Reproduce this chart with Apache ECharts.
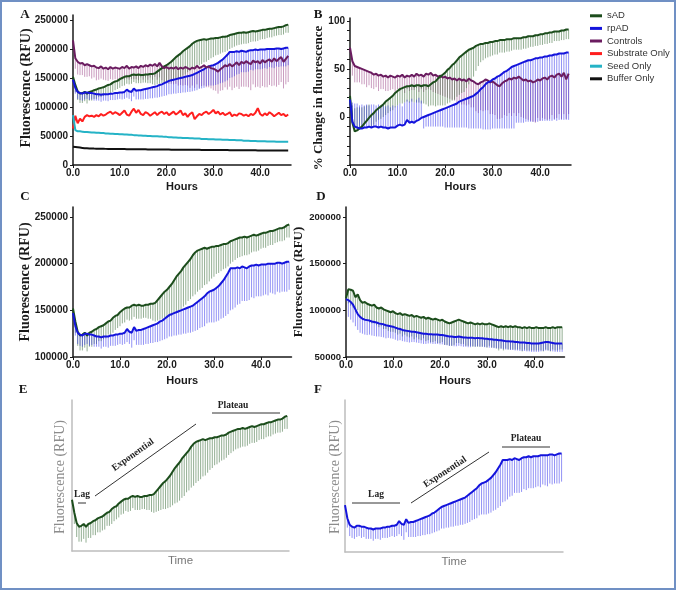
<!DOCTYPE html>
<html><head><meta charset="utf-8">
<script src="https://cdn.jsdelivr.net/npm/echarts@6/dist/echarts.min.js"></script>
<style>html,body{margin:0;padding:0;background:#fff}#c{width:676px;height:590px}</style>
</head><body><div id="c"></div>
<script>
// ---------- time points (hours) ----------
const hours = [
 0,0.5,1,1.5,2,2.5,3,3.5,4,4.5,
 5,5.5,6,6.5,7,7.5,8,8.5,9,9.5,
 10,10.5,11,11.5,12,12.5,13,13.5,14,14.5,
 15,15.5,16,16.5,17,17.5,18,18.5,19,19.5,
 20,20.5,21,21.5,22,22.5,23,23.5,24,24.5,
 25,25.5,26,26.5,27,27.5,28,28.5,29,29.5,
 30,30.5,31,31.5,32,32.5,33,33.5,34,34.5,
 35,35.5,36,36.5,37,37.5,38,38.5,39,39.5,
 40,40.5,41,41.5,42,42.5,43,43.5,44,44.5,
 45,45.5,46];
const xTickLabels = [0,10,20,30,40];
const yTicksA = [0,50000,100000,150000,200000,250000];
const yTicksB = [0,50,100];
const yMinorB = [-50,-40,-30,-20,-10,0,10,20,30,40,50,60,70,80,90,100];
const yTicksC = [100000,150000,200000,250000];
const yTicksD = [50000,100000,150000,200000];

// ---------- fluorescence, thousands of RFU (panels A, C, E, F) ----------
const sAD_k = [
 152,138,127,123,124,126,123,126,127,129,
 130,132,133,134,136,138,139,142,144,145,
 148,150,152,153,153,155,156,155,156,155,
 155,156,156,157,157,158,161,164,167,170,
 172,175,178,182,186,189,192,196,199,202,
 205,209,212,214,215,216,217,216,217,218,
 218,219,219,220,221,221,222,224,225,226,
 227,228,228,229,228,229,230,231,230,231,
 232,233,233,234,235,235,236,237,238,238,
 239,241,242];
const sAD_err_k = [
 5,12,15,16,17,16,17,15,16,15,
 16,15,16,15,16,14,15,16,15,14,
 15,14,15,13,14,15,13,14,15,14,
 13,14,15,16,18,20,22,24,26,28,
 30,32,34,36,38,40,41,42,43,42,
 43,44,45,44,43,42,40,38,36,34,
 32,30,29,28,27,26,25,24,23,22,
 21,21,20,20,19,19,18,18,17,17,
 16,16,16,15,15,15,14,14,14,14,
 14,13,14];
const rpAD_k = [
 147,133,126,124,123,125,125,124,124,123,
 122,122,121,122,122,122,123,123,124,124,
 125,125,126,130,127,126,132,128,129,129,
 130,131,132,133,134,135,136,138,139,141,
 143,145,146,147,148,149,150,151,152,153,
 154,155,157,159,161,163,165,168,170,171,
 172,174,176,179,182,186,190,195,195,195,
 196,195,197,196,195,197,198,198,199,198,
 199,199,199,200,200,200,200,201,201,200,
 201,202,202];
const rpAD_err_k = [
 5,10,12,12,12,12,11,12,11,12,
 11,11,12,11,11,12,11,11,12,11,
 11,12,12,14,13,16,14,15,16,16,
 17,17,18,18,19,19,20,21,21,22,
 23,23,24,24,25,25,26,26,27,27,
 28,28,29,30,30,31,32,32,33,34,
 35,36,37,38,40,42,44,45,44,42,
 40,38,37,36,35,36,34,35,34,33,
 34,33,32,34,31,32,33,31,32,30,
 31,32,30];
const controls_k = [
 215,184,178,175,176,172,174,172,170,171,
 168,167,170,166,168,165,169,166,168,167,
 166,169,167,171,166,169,168,170,167,171,
 169,172,170,173,171,174,170,176,170,167,
 169,166,168,166,169,165,168,166,169,167,
 165,168,166,171,167,169,172,168,170,167,
 166,164,161,165,168,172,170,174,170,173,
 177,172,178,175,179,176,174,180,177,179,
 175,181,177,180,182,178,184,179,183,186,
 178,183,188];
const controls_err_k = [
 5,18,22,20,21,20,22,19,21,20,
 22,20,21,19,22,20,21,19,20,22,
 20,21,20,22,19,21,20,22,21,20,
 22,21,23,22,24,22,23,25,24,26,
 25,26,28,27,29,28,30,29,31,30,
 32,31,33,32,34,33,35,34,36,35,
 37,36,38,37,39,38,40,39,41,40,
 42,41,43,40,44,42,45,41,43,44,
 42,45,43,46,44,42,47,44,45,43,
 46,44,45];
const substrate_k = [
 63,85,72,80,75,83,86,84,85,83,
 86,84,88,85,87,90,92,88,91,89,
 86,90,94,87,85,92,97,90,95,88,
 86,91,89,85,88,91,86,90,92,88,
 91,86,89,92,87,90,94,86,89,83,
 88,91,79,84,88,86,90,92,88,91,
 95,89,92,87,90,86,88,91,84,87,
 85,89,88,85,87,84,88,86,90,98,
 88,85,89,86,91,88,84,87,90,86,
 88,84,87];
const seed_k = [
 86,60,58,58,57.5,57,57,56.5,56,56,
 55.5,55.5,55,55,54.5,54.5,54,54,53.5,53.5,
 53,53,52.5,52.5,52,52,51.5,51.5,51,51,
 50.5,50.5,50,50,49.5,49.5,49.5,49,49,48.5,
 48.5,48,48,47.5,47.5,47,47,46.5,46.5,46.5,
 46,46,45.5,45.5,45.5,45,45,45,44.5,44.5,
 44.5,44,44,44,43.5,43.5,43.5,43,43,43,
 42.5,42.5,42.5,42,42,42,41.5,41.5,41.5,41,
 41,41,41,40.5,40.5,40.5,40.5,40,40,40,
 40,40,40];
const buffer_k = [
 31.5,31,30.5,30,29.5,29,28.8,28.6,28.5,28.3,
 28.2,28,28,27.9,27.8,27.7,27.7,27.6,27.6,27.5,
 27.5,27.4,27.4,27.3,27.3,27.2,27.2,27.1,27.1,27,
 27,27,26.9,26.9,26.8,26.8,26.8,26.7,26.7,26.6,
 26.6,26.6,26.5,26.5,26.5,26.4,26.4,26.3,26.3,26.3,
 26.2,26.2,26.2,26.1,26.1,26,26,26,25.9,25.9,
 25.9,25.8,25.8,25.8,25.7,25.7,25.7,25.6,25.6,25.6,
 25.5,25.5,25.5,25.4,25.4,25.4,25.3,25.3,25.3,25.2,
 25.2,25.2,25.1,25.1,25.1,25,25,25,25,25,
 25,25,25];

// ---------- % change in fluorescence (panel B) ----------
const sAD_pct = [
 22,-6,-15,-14,-12,-10,-7,-4,-1,2,
 4,7,9,11,13,16,18,20,22,25,
 27,29,30,31,32,32,33,32,33,33,
 32,33,33,32,34,36,37,40,42,44,
 46,49,51,54,56,59,62,64,66,68,
 70,71,72,74,75,76,76,77,77,78,
 78,79,79,80,80,80,81,81,81,82,
 82,82,82,83,83,84,84,84,85,85,
 86,86,87,87,88,88,89,89,89,90,
 90,91,91];
const sAD_pct_err = [
 5,18,24,24,22,20,18,16,14,12,
 12,12,12,13,13,14,14,14,15,15,
 15,15,16,16,16,17,17,17,18,18,
 18,19,20,21,22,24,26,28,30,32,
 34,35,36,37,38,38,39,39,40,38,
 36,33,30,26,22,19,17,16,15,15,
 14,14,14,13,13,13,13,13,12,12,
 12,12,12,12,12,12,11,11,11,11,
 11,11,11,11,11,11,10,10,10,10,
 10,10,10];
const rpAD_pct = [
 18,-5,-10,-11,-12,-12,-11,-11,-10,-11,
 -10,-10,-11,-10,-11,-11,-12,-11,-11,-11,
 -9,-8,-9,-8,-3,-6,-5,-6,-4,-3,
 -1,0,1,2,3,4,5,6,7,8,
 9,10,11,12,13,14,16,17,18,19,
 20,21,22,24,26,29,31,34,36,37,
 39,40,42,43,45,47,48,50,52,53,
 54,55,56,57,58,59,59,60,61,61,
 62,62,63,63,64,64,65,65,66,66,
 66,67,67];
const rpAD_pct_err = [
 5,20,24,25,24,25,23,24,22,24,
 23,22,24,21,23,22,24,21,23,22,
 21,22,20,23,21,22,24,21,22,23,
 18,12,11,12,13,14,15,16,17,18,
 20,21,22,23,24,25,27,28,29,30,
 32,33,34,36,38,41,44,47,49,50,
 51,52,54,55,57,59,60,62,64,65,
 60,61,62,63,63,64,64,65,66,66,
 66,66,67,67,68,68,68,69,69,69,
 69,70,70];
const controls_pct = [
 72,58,53,52,51,50,49,48,47,46,
 44,45,43,44,42,43,41,43,42,41,
 43,42,44,41,43,42,44,42,45,43,
 44,42,45,44,46,43,44,42,43,41,
 42,40,41,39,40,38,40,38,39,37,
 40,38,37,35,34,36,37,39,38,36,
 37,35,33,32,35,37,38,40,39,41,
 40,42,40,38,39,37,38,36,37,39,
 38,40,41,39,42,43,41,44,45,42,
 46,39,45];
const controls_pct_err = [
 5,15,17,16,15,16,15,17,14,16,
 15,14,16,15,13,16,14,15,13,16,
 14,15,13,16,14,15,16,14,15,17,
 15,16,17,15,18,17,19,18,20,19,
 21,20,22,21,23,24,23,25,26,25,
 27,28,27,29,30,29,31,32,31,33,
 34,33,35,34,36,35,37,36,38,37,
 39,38,40,39,41,40,42,41,43,40,
 42,41,43,42,44,41,43,45,42,44,
 43,41,42];

// ---------- panel D, thousands of RFU ----------
const D_sAD_k = [
 113,122.5,122,121,114,117,111,108,109,107,
 106,105,106,103,102,103,101,100,99,98,
 99,97,96,97,95,96,95,94,95,93,
 94,93,92,93,91,92,91,90,91,90,
 89,90,88,87,86,87,88,89,90,89,
 88,87,86,87,86,85,86,85,86,85,
 85,86,85,84,83,82,83,82,83,82,
 83,82,83,82,82,81,82,81,82,81,
 81,82,81,81,81,82,81,81,82,81,
 82,82,82];
const D_sAD_err_k = [
 3,15,17,18,16,17,18,18,19,18,
 19,19,20,19,20,20,21,20,21,21,
 22,21,22,22,23,22,23,23,23,24,
 23,24,24,23,24,24,25,24,24,25,
 24,24,25,24,24,25,25,24,25,25,
 24,25,24,25,25,24,25,24,25,24,
 25,24,25,24,24,25,24,25,24,24,
 25,24,25,24,24,25,24,24,25,24,
 24,25,24,24,25,24,24,25,24,24,
 25,24,24];
const D_rpAD_k = [
 112,111,109,106,101,96,93,91,90,89.5,
 89,88,87.5,87,86,85.5,85,84,83.5,83,
 82.5,81.5,80.5,80,79,78.5,78,77.5,77,77,
 76.5,76,75.5,75,75,74.5,74.5,74,74,74,
 73.5,73.5,73,72.5,72,72,71.5,71.5,72,71.5,
 71,71,70.5,70.5,70.5,70,70.5,70,70,69.5,
 69.5,69,69,68.5,68.5,68,68,67.5,67,67,
 66.5,66.5,66,66,65.5,65.5,65.5,65,65,64.5,
 64.5,64.5,64.5,65,65.5,66,66,65.5,65,64.5,
 64.5,64.5,64.5];
const D_rpAD_err_k = [
 3,18,19,19,18,17,17,16,16,16,
 15,15,15,15,14,14,14,14,13,13,
 13,13,13,12,12,12,12,12,11,11,
 11,11,11,11,11,10,10,10,10,10,
 10,10,10,10,10,10,10,10,10,10,
 10,10,10,10,9,9,9,9,9,9,
 9,9,9,9,9,9,9,9,9,9,
 9,9,9,9,9,9,9,9,9,9,
 9,9,9,9,9,9,9,9,9,9,
 9,9,9];

// ---------- styling ----------
const C_SAD = '#1c4d1c', C_RPAD = '#1414dc', C_CTRL = '#6b1c60',
      C_SUB = '#ff1e1e', C_SEED = '#25b3c6', C_BUF = '#111111';
const E_SAD = 'rgba(60,110,60,0.55)', E_RPAD = 'rgba(40,40,235,0.5)', E_CTRL = 'rgba(150,60,130,0.5)';
const SANS = '"Liberation Sans", Arial, Helvetica, sans-serif';
const SERIF = '"Liberation Serif", "Times New Roman", serif';
const INK = '#1a1a1a';
const K = 1000;

function pairs(vals, scale) { return hours.map((t, i) => [t, vals[i] * scale]); }
function triples(vals, errs, scale) { return hours.map((t, i) => [t, vals[i] * scale, errs[i] * scale]); }

function line(name, idx, vals, scale, color, width) {
  return { type: 'line', name: name, xAxisIndex: idx, yAxisIndex: idx, data: pairs(vals, scale),
    showSymbol: false, symbol: 'none', color: color, lineStyle: { color: color, width: width || 2 },
    itemStyle: { color: color }, z: 4, silent: true, animation: false, clip: true };
}
function errs(idx, vals, er, scale, color, towardZero) {
  return { type: 'custom', xAxisIndex: idx, yAxisIndex: idx, data: triples(vals, er, scale),
    encode: { x: 0, y: 1 }, clip: true, z: 2, silent: true, animation: false,
    renderItem: function (params, api) {
      const t = api.value(0), v = api.value(1), e = api.value(2);
      const end = (towardZero && v < 0) ? v + e : v - e;
      const p1 = api.coord([t, v]), p2 = api.coord([t, end]);
      return { type: 'line', shape: { x1: p1[0], y1: p1[1], x2: p2[0], y2: p2[1] },
        style: { stroke: color, lineWidth: 1 } };
    } };
}

function xAxisStd(idx, max, gap) {
  return { type: 'value', gridIndex: idx, min: 0, max: max, interval: 10,
    name: 'Hours', nameLocation: 'middle', nameGap: gap,
    nameTextStyle: { fontFamily: SANS, fontSize: 11, fontWeight: 'bold', color: INK },
    axisLine: { show: true, onZero: false, lineStyle: { color: INK, width: 1.5 } },
    axisTick: { show: true, length: 3, customValues: xTickLabels, lineStyle: { color: INK } },
    axisLabel: { show: true, margin: 3, customValues: xTickLabels, fontFamily: SANS, fontSize: 10,
      fontWeight: 'bold', color: INK,
      formatter: v => (Math.abs(v % 10) < 1e-6 ? v.toFixed(1) : '') },
    splitLine: { show: false } };
}
function yAxisStd(idx, min, max, ticks, minor, fs) {
  return { type: 'value', gridIndex: idx, min: min, max: max,
    axisLine: { show: true, onZero: false, lineStyle: { color: INK, width: 1.5 } },
    axisTick: { show: true, length: 3, customValues: minor || ticks, lineStyle: { color: INK } },
    axisLabel: { show: true, margin: 5, customValues: ticks, fontFamily: SANS, fontSize: fs || 10,
      fontWeight: 'bold', color: INK,
      formatter: v => (ticks.indexOf(v) >= 0 ? String(v) : '') },
    splitLine: { show: false } };
}
function xAxisPlain(idx, max) {
  return { type: 'value', gridIndex: idx, min: 0, max: max,
    name: 'Time', nameLocation: 'middle', nameGap: 4,
    nameTextStyle: { fontFamily: SANS, fontSize: 11.5, color: '#777' },
    axisLine: { show: true, onZero: false, lineStyle: { color: '#bdbdbd', width: 1.5 } },
    axisTick: { show: false }, axisLabel: { show: false }, splitLine: { show: false } };
}
function yAxisPlain(idx, min, max) {
  return { type: 'value', gridIndex: idx, min: min, max: max,
    axisLine: { show: true, onZero: false, lineStyle: { color: '#bdbdbd', width: 1.5 } },
    axisTick: { show: false }, axisLabel: { show: false }, splitLine: { show: false } };
}

function letter(t, x, y) {
  return { type: 'text', x: x, y: y, silent: true,
    style: { text: t, font: 'bold 13px ' + SERIF, fill: INK, align: 'center', verticalAlign: 'middle',
      textAlign: 'center', textVerticalAlign: 'middle' } };
}
function vtitle(t, x, y, font, color) {
  return { type: 'text', x: x, y: y, rotation: Math.PI / 2, silent: true,
    style: { text: t, font: font, fill: color, align: 'center', verticalAlign: 'middle',
      textAlign: 'center', textVerticalAlign: 'middle' } };
}
function note(t, x, y, rot) {
  return { type: 'text', x: x, y: y, rotation: rot || 0, silent: true,
    style: { text: t, font: 'bold 9.5px ' + SERIF, fill: '#222', align: 'center', verticalAlign: 'middle',
      textAlign: 'center', textVerticalAlign: 'middle' } };
}
function seg(x1, y1, x2, y2) {
  return { type: 'line', silent: true, shape: { x1: x1, y1: y1, x2: x2, y2: y2 },
    style: { stroke: '#333', lineWidth: 1 } };
}

const TITLE_FONT = 'bold 14px ' + SERIF;
const option = {
  animation: false,
  backgroundColor: '#ffffff',
  grid: [
    { left: 73, top: 15, width: 218, height: 150 },
    { left: 350, top: 18, width: 221, height: 147 },
    { left: 73, top: 207, width: 218.5, height: 150 },
    { left: 346, top: 207, width: 218.5, height: 150 },
    { left: 72, top: 400, width: 217, height: 151 },
    { left: 345, top: 400, width: 218, height: 152 }
  ],
  xAxis: [
    xAxisStd(0, 46.6, 16),
    xAxisStd(1, 46.5, 16),
    xAxisStd(2, 46.5, 18),
    xAxisStd(3, 46.5, 18),
    xAxisPlain(4, 46.4),
    xAxisPlain(5, 46.3)
  ],
  yAxis: [
    yAxisStd(0, 0, 258600, yTicksA),
    yAxisStd(1, -50, 103, yTicksB, yMinorB),
    yAxisStd(2, 100000, 260700, yTicksC),
    yAxisStd(3, 50000, 210700, yTicksD, null, 9.5),
    yAxisPlain(4, 97000, 259000),
    yAxisPlain(5, 97000, 259000)
  ],
  legend: {
    show: true, orient: 'vertical', left: 590, top: 10, padding: 0,
    itemWidth: 12, itemHeight: 3, itemGap: 1, icon: 'rect', selectedMode: false,
    data: ['sAD', 'rpAD', 'Controls', 'Substrate Only', 'Seed Only', 'Buffer Only'],
    textStyle: { fontFamily: SANS, fontSize: 9.5, color: '#333', lineHeight: 11.6 }
  },
  series: [
    // Panel A
    errs(0, controls_k, controls_err_k, K, E_CTRL, false),
    errs(0, sAD_k, sAD_err_k, K, E_SAD, false),
    errs(0, rpAD_k, rpAD_err_k, K, E_RPAD, false),
    line('sAD', 0, sAD_k, K, C_SAD, 2),
    line('rpAD', 0, rpAD_k, K, C_RPAD, 2),
    line('Controls', 0, controls_k, K, C_CTRL, 2),
    line('Substrate Only', 0, substrate_k, K, C_SUB, 2),
    line('Seed Only', 0, seed_k, K, C_SEED, 2),
    line('Buffer Only', 0, buffer_k, K, C_BUF, 2),
    // Panel B
    errs(1, controls_pct, controls_pct_err, 1, E_CTRL, true),
    errs(1, sAD_pct, sAD_pct_err, 1, E_SAD, true),
    errs(1, rpAD_pct, rpAD_pct_err, 1, E_RPAD, true),
    line('Controls', 1, controls_pct, 1, C_CTRL, 2),
    line('sAD', 1, sAD_pct, 1, C_SAD, 2),
    line('rpAD', 1, rpAD_pct, 1, C_RPAD, 2),
    // Panel C
    errs(2, sAD_k, sAD_err_k, K, E_SAD, false),
    errs(2, rpAD_k, rpAD_err_k, K, E_RPAD, false),
    line('sAD', 2, sAD_k, K, C_SAD, 2),
    line('rpAD', 2, rpAD_k, K, C_RPAD, 2),
    // Panel D
    errs(3, D_sAD_k, D_sAD_err_k, K, E_SAD, false),
    errs(3, D_rpAD_k, D_rpAD_err_k, K, E_RPAD, false),
    line('sAD', 3, D_sAD_k, K, C_SAD, 2),
    line('rpAD', 3, D_rpAD_k, K, C_RPAD, 2),
    // Panel E
    errs(4, sAD_k, sAD_err_k, K, E_SAD, false),
    line('sAD', 4, sAD_k, K, C_SAD, 2),
    // Panel F
    errs(5, rpAD_k, rpAD_err_k, K, E_RPAD, false),
    line('rpAD', 5, rpAD_k, K, C_RPAD, 2)
  ],
  graphic: [
    { type: 'rect', silent: true, shape: { x: 1, y: 1, width: 674, height: 588 },
      style: { fill: 'none', stroke: '#7090c4', lineWidth: 2 } },
    letter('A', 25, 15), letter('B', 318, 15), letter('C', 25, 197),
    letter('D', 321, 197), letter('E', 23, 390), letter('F', 318, 390),
    // y-axis titles
    vtitle('Fluorescence (RFU)', 26, 88, TITLE_FONT, INK),
    vtitle('% Change in fluorescence', 319, 98, 'bold 13px ' + SERIF, INK),
    vtitle('Fluorescence (RFU)', 25, 282, TITLE_FONT, INK),
    vtitle('Fluorescence (RFU)', 299, 282, 'bold 13px ' + SERIF, INK),
    vtitle('Fluorescence (RFU)', 60, 477, '14px ' + SERIF, '#8c8c8c'),
    vtitle('Fluorescence (RFU)', 335, 477, '14px ' + SERIF, '#8c8c8c'),
    // Panel E annotations
    note('Lag', 82, 495), seg(78, 503, 86, 503),
    seg(95, 496, 196, 424), note('Exponential', 133, 455, 0.618),
    note('Plateau', 233, 406), seg(212, 413, 280, 413),
    // Panel F annotations
    note('Lag', 376, 495), seg(352, 503, 400, 503),
    seg(411, 503, 489, 452), note('Exponential', 445, 472, 0.576),
    note('Plateau', 526, 439), seg(502, 447, 550, 447)
  ]
};

const chart = echarts.init(document.getElementById('c'), null, { renderer: 'canvas' });
chart.setOption(option);
</script>
</body></html>
